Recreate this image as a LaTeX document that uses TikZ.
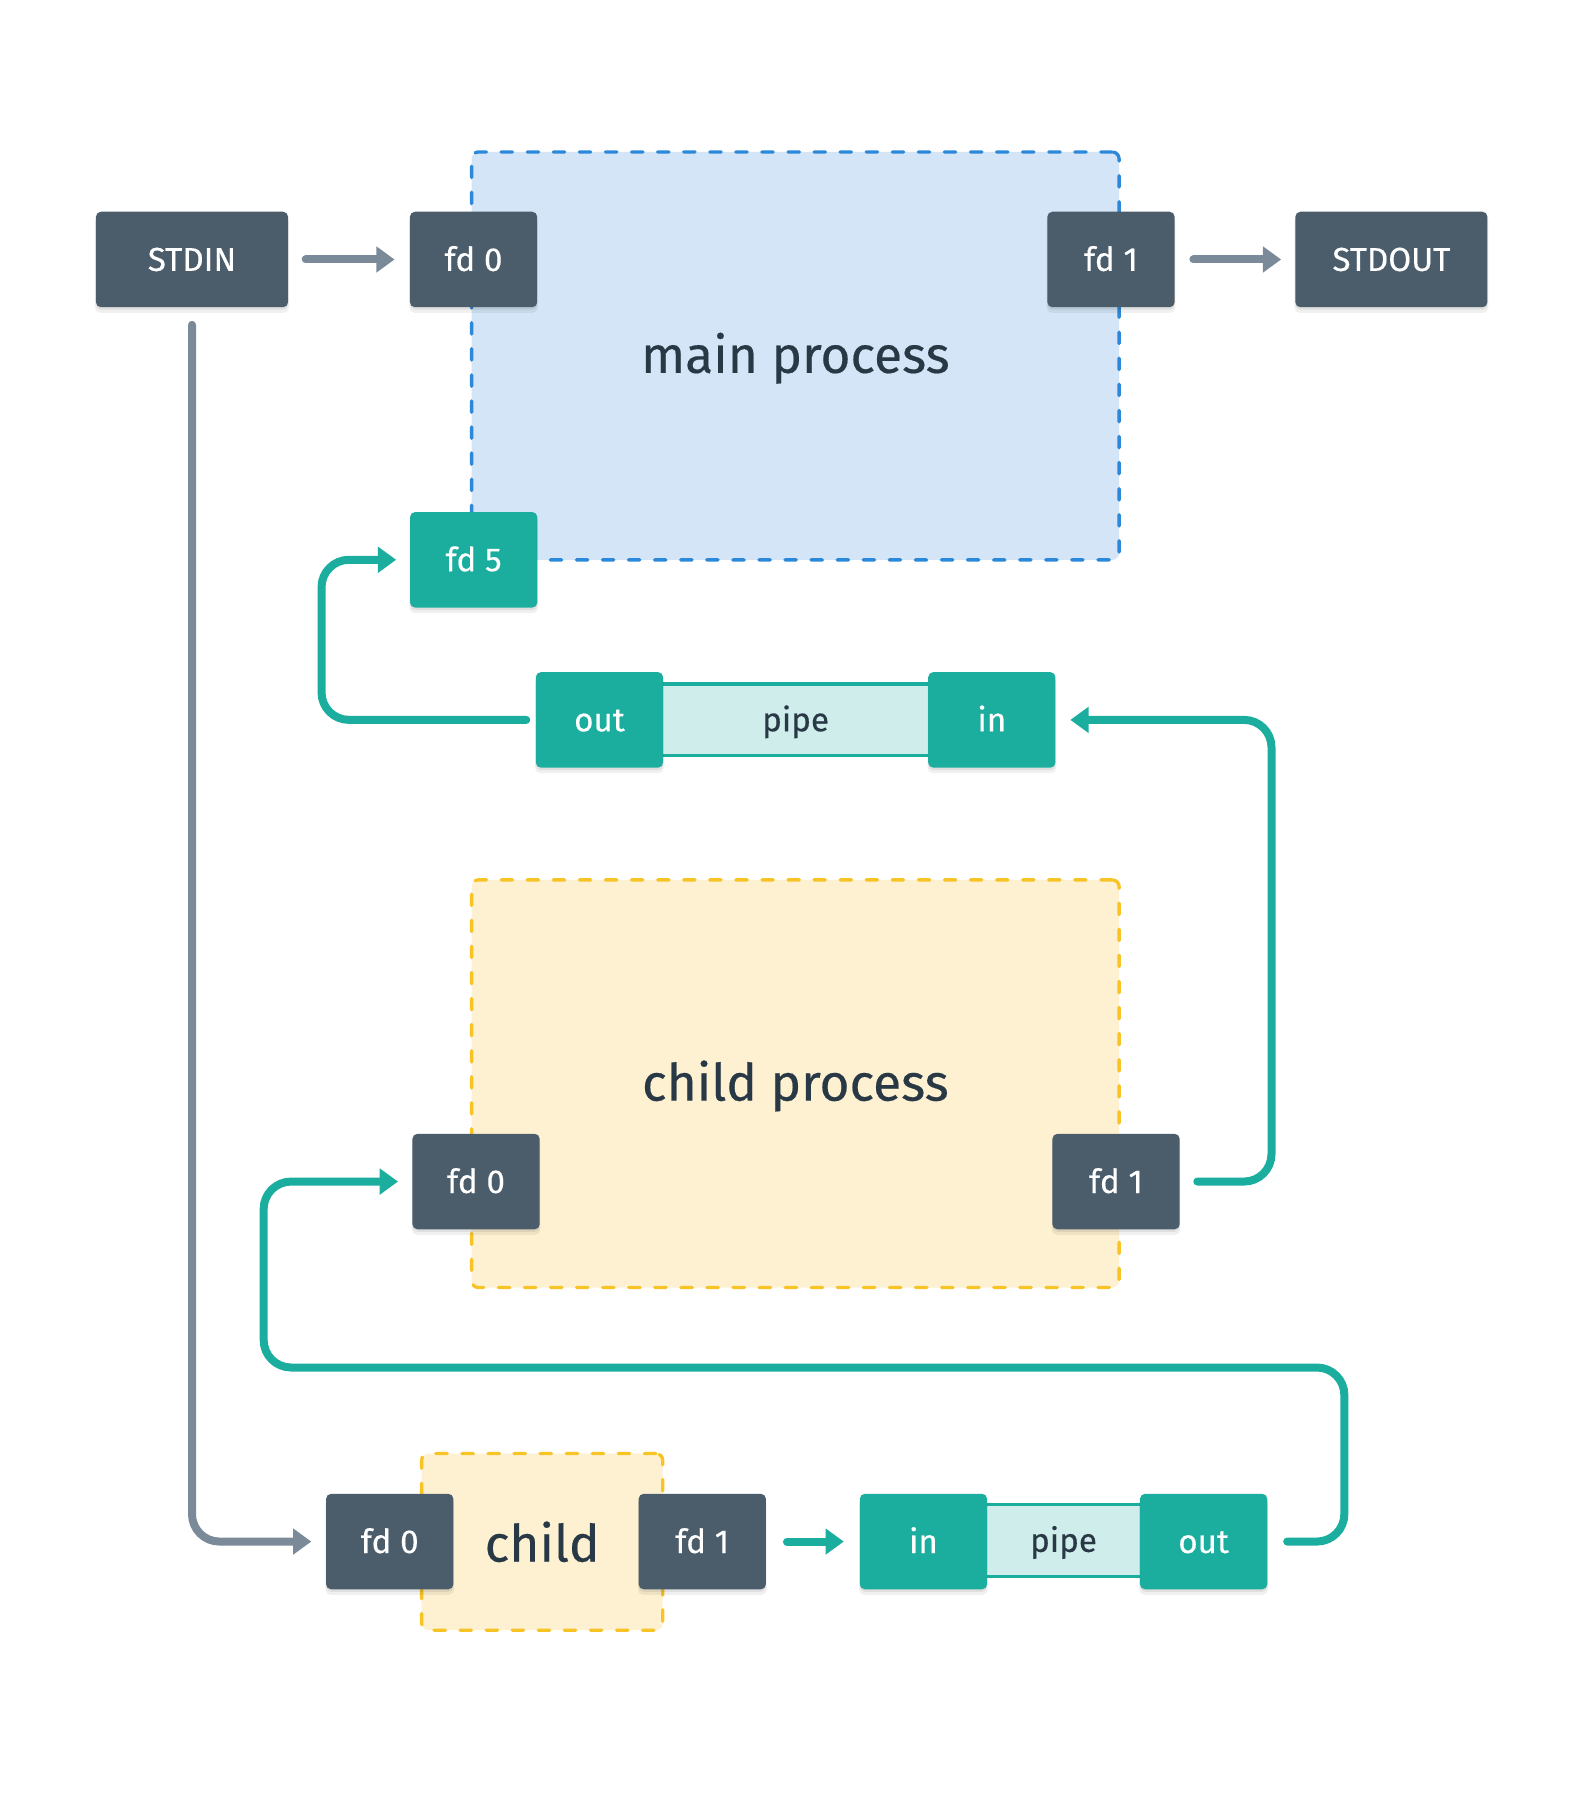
\documentclass[tikz,border=0pt]{standalone}
\usepackage{fontspec}
\setmainfont{Fira Sans}
\newfontfamily\labelfont{Fira Sans}[FakeBold=0.35]
\usetikzlibrary{arrows.meta,calc,shadows}
\definecolor{boxdark}{HTML}{4B5C6B}
\definecolor{tealc}{HTML}{1BAE9F}
\definecolor{tealfill}{HTML}{CFEEEB}
\definecolor{arrowgray}{HTML}{7A8A99}
\definecolor{bluedash}{HTML}{2C88D9}
\definecolor{bluefill}{HTML}{D3E5F6}
\definecolor{yellowdash}{HTML}{F7C325}
\definecolor{yellowfill}{HTML}{FDF1D2}
\definecolor{textdark}{HTML}{293845}
\begin{document}
\begin{tikzpicture}[x=0.5pt,y=-0.5pt,
  softshadow/.style={general shadow={fill=black, opacity=0.06, shadow xshift=0pt, shadow yshift=-2.2pt, shadow scale=1.01},
                     general shadow={fill=black, opacity=0.07, shadow xshift=0pt, shadow yshift=-1.1pt}},
  fdbox/.style={rectangle, rounded corners=2.2pt, fill=boxdark, text=white,
    minimum width=55.65pt, minimum height=41.75pt, inner sep=0pt,
    font=\labelfont\fontsize{14.5pt}{16pt}\selectfont, text height=10pt, text depth=0pt, softshadow},
  widebox/.style={fdbox, minimum width=84pt},
  tealbox/.style={fdbox, fill=tealc},
  pipebar/.style={rectangle, draw=tealc, line width=1.45pt, fill=tealfill,
    minimum height=31.3pt, inner sep=0pt},
  pipetext/.style={text=textdark, inner sep=0pt, font=\labelfont\fontsize{14.5pt}{16pt}\selectfont, text height=10pt, text depth=0pt},
  container/.style={rectangle, rounded corners=3pt, line width=1.45pt, dash pattern=on 5pt off 6.4pt, line cap=round, inner sep=0pt},
  maincont/.style={container, draw=bluedash, fill=bluefill},
  childcont/.style={container, draw=yellowdash, fill=yellowfill},
  title/.style={anchor=base, text=textdark, font=\labelfont\fontsize{22.5pt}{26pt}\selectfont},
  grayarrow/.style={draw=arrowgray, line width=3.5pt, line cap=round, rounded corners=12pt, -{Triangle[length=8pt,width=11pt]}},
  tealarrow/.style={grayarrow, draw=tealc},
]
\useasboundingbox (0,0) rectangle (1385,1574);

% containers
\node[maincont, minimum width=283.1pt, minimum height=178.35pt] (maincont) at (695.5,311.25) {};
\node[childcont, minimum width=283.1pt, minimum height=178.25pt] (childcont) at (695.5,947.65) {};
\node[childcont, minimum width=105.4pt, minimum height=77.25pt] (smallcont) at (474.1,1348.25) {};

\node[title] (maintitle) at (695.5,326) {main process};
\node[title] (childtitle) at (695.5,962.4) {child process};
\node[title] (smalltitle) at (474.1,1365.5) {child};

% pipe bars
\node[pipebar, minimum width=150pt] (p1mid) at (695.7,629.4) {};
\node[pipetext] (p1label) at (695.7,629.4) {pipe};
\node[pipebar, minimum width=100pt, minimum height=31.5pt] (p2mid) at (929.8,1347) {};
\node[pipetext] (p2label) at (930,1347) {pipe};

% boxes
\node[widebox] (stdin) at (167.9,226.9) {STDIN};
\node[fdbox] (mfd0) at (414.1,226.9) {fd 0};
\node[fdbox] (mfd1) at (971.5,226.9) {fd 1};
\node[widebox] (stdout) at (1216.7,226.9) {STDOUT};
\node[tealbox] (mfd5) at (414.2,489.5) {fd 5};
\node[tealbox] (p1out) at (524.2,629.5) {out};
\node[tealbox] (p1in) at (867.3,629.5) {in};
\node[fdbox] (cfd0) at (416.3,1033.2) {fd 0};
\node[fdbox] (cfd1) at (975.9,1033.2) {fd 1};
\node[fdbox] (bfd0) at (340.8,1348) {fd 0};
\node[fdbox] (bfd1) at (614.1,1348) {fd 1};
\node[tealbox] (p2in) at (807.5,1348) {in};
\node[tealbox] (p2out) at (1052.5,1348) {out};

% connectors
\draw[grayarrow] ($(stdin.east)+(15,0)$) -- ($(mfd0.west)+(-13,0)$);
\draw[grayarrow] ($(mfd1.east)+(16,0)$) -- ($(stdout.west)+(-12,0)$);
\draw[grayarrow] ($(stdin.south)+(0,15)$) |- ($(bfd0.west)+(-12.5,0)$);
\draw[tealarrow] ($(p1out.west)+(-8,0)$) -| ($(mfd5.west)+(-77,0)$) -- ($(mfd5.west)+(-11.7,0)$);
\draw[tealarrow] ($(cfd1.east)+(15,0)$) -| ($(p1in.east)+(188.5,0)$) -- ($(p1in.east)+(12.6,0)$);
\draw[tealarrow] ($(bfd1.east)+(18,0)$) -- ($(p2in.west)+(-13.6,0)$);
\draw[tealarrow] ($(p2out.east)+(17,0)$) -| ($(p2out.east)+(67,-152.2)$) -| ($(cfd0.west)+(-129.7,0)$) -- ($(cfd0.west)+(-12.2,0)$);
\end{tikzpicture}
\end{document}
